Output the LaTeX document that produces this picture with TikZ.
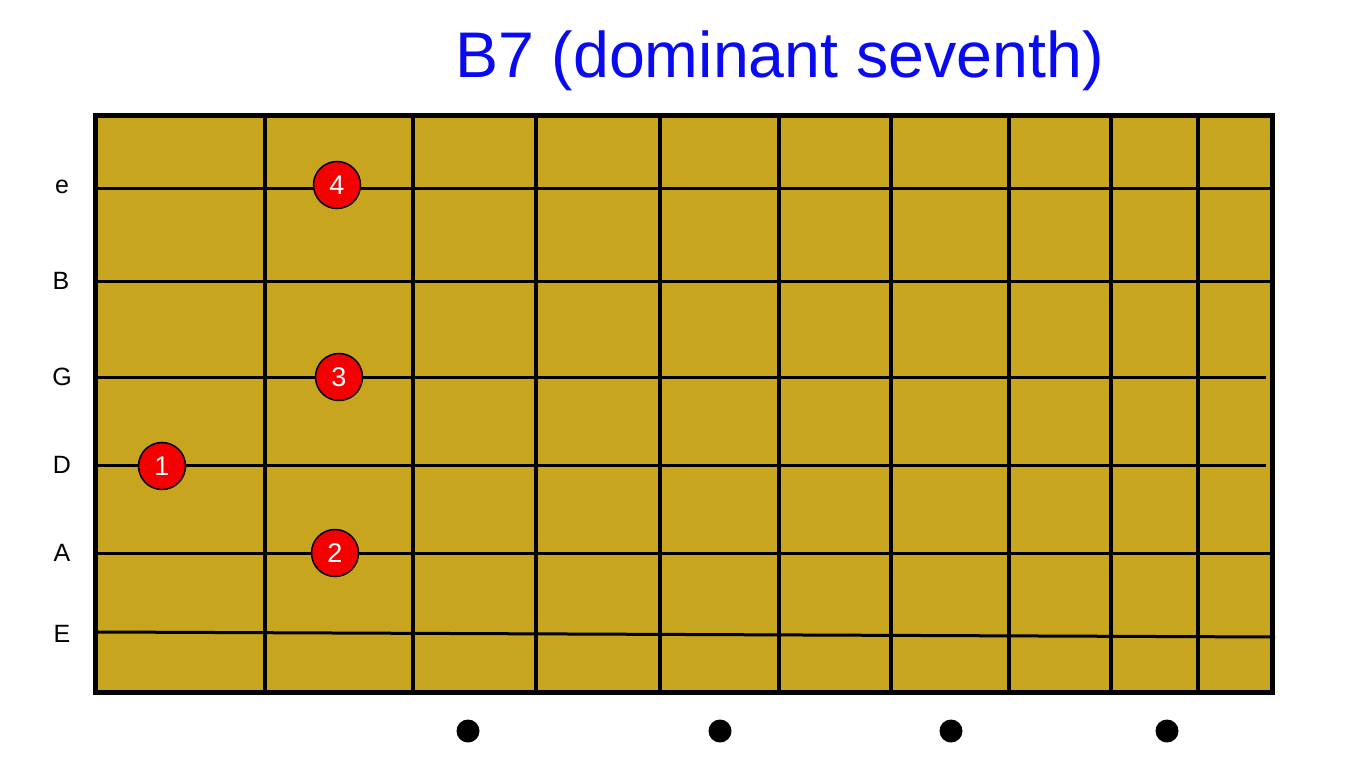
\documentclass[tikz,border=0pt]{standalone}
\usepackage{fontspec}
\setmainfont{Liberation Sans}
\definecolor{board}{RGB}{200,165,30}
\definecolor{titleblue}{RGB}{10,10,240}
\definecolor{fingerred}{RGB}{245,0,0}
\begin{document}
\begin{tikzpicture}[x=1pt,y=-1pt,
  stringline/.style={line width=3pt,black},
  fretline/.style={line width=3.5pt,black},
  finger/.style={circle,draw=black,line width=1.5pt,fill=fingerred,minimum size=47pt,inner sep=0pt,text=white,font=\fontsize{27}{27}\selectfont},
  strlabel/.style={font=\fontsize{25}{25}\selectfont,anchor=center},
  marker/.style={circle,fill=black,minimum size=23pt,inner sep=0pt}]
\useasboundingbox (0,0) rectangle (1366,768);
% board
\fill[board] (95.5,115.5) rectangle (1272.5,692.5);
% frets
\foreach \x in {265,413,536,660,779,891,1009,1111,1198}
  \draw[fretline] (\x,115) -- (\x,693);
% strings
\coordinate (eL) at (98,188);  \coordinate (eR) at (1270,188);
\coordinate (BL) at (98,281);  \coordinate (BR) at (1270,281);
\coordinate (GL) at (98,377);  \coordinate (GR) at (1266,377);
\coordinate (DL) at (98,465);  \coordinate (DR) at (1266,465);
\coordinate (AL) at (98,553);  \coordinate (AR) at (1270,553);
\coordinate (EL) at (98,632);  \coordinate (ER) at (1275,637);
\foreach \s in {e,B,G,D,A,E}
  \draw[stringline] (\s L) -- (\s R);
% border
\draw[line width=5pt] (95.5,115.5) rectangle (1272.5,692.5);
% string labels
\node[strlabel] (le) at (62,187) {e};
\node[strlabel] (lB) at (61,281) {B};
\node[strlabel] (lG) at (62,377) {G};
\node[strlabel] (lD) at (62,465) {D};
\node[strlabel] (lA) at (62,553) {A};
\node[strlabel] (lE) at (62,634) {E};
% fingers
\node[finger] (f4) at (337,185) {4};
\node[finger] (f3) at (339,377) {3};
\node[finger] (f1) at (162,466) {1};
\node[finger] (f2) at (335,553) {2};
% position markers
\node[marker] (m1) at (468,731) {};
\node[marker] (m2) at (720,731) {};
\node[marker] (m3) at (951,731) {};
\node[marker] (m4) at (1167,731) {};
% title
\node[text=titleblue,font=\fontsize{64.5}{64.5}\selectfont] (title) at (779.5,61) {B7 (dominant seventh)};
\end{tikzpicture}
\end{document}
